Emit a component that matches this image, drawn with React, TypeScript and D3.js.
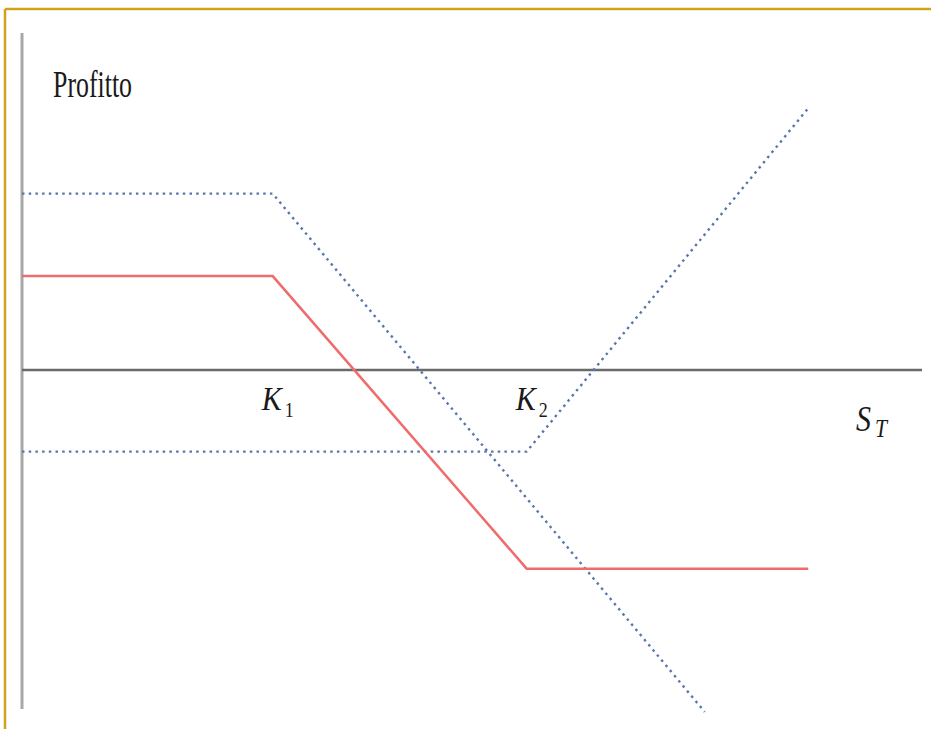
import React from "react";
import * as d3 from "d3";

// Strike prices (in units of S_T)
const strikes = [39, 78.5];
const strikeLabels = ["1", "2"];

// Profit series (S_T values and profits)
const redS = [0, 39, 78.5, 122.3];
const redP = [12.2, 12.2, -25.8, -25.8];

const shortCallS = [0, 39, 106.2];
const shortCallP = [22.9, 22.9, -44.4];

const longCallS = [0, 78.5, 122.3];
const longCallP = [-10.6, -10.6, 34.0];

const W = 931;
const H = 729;

export default function App() {
  const x = d3.scaleLinear().domain([0, 140]).range([22, 922]);
  const y = d3.scaleLinear().domain([-50, 50]).range([755, -15]);

  const line = d3
    .line<[number, number]>()
    .x((d) => x(d[0]))
    .y((d) => y(d[1]));

  const zip = (a: number[], b: number[]) => a.map((v, i) => [v, b[i]] as [number, number]);

  const serif = "Liberation Serif, Times New Roman, serif";

  return (
    <div style={{ position: "absolute", left: 0, top: 0, width: W, height: H, background: "#fff" }}>
      <svg width={W} height={H} style={{ display: "block" }}>
        <rect width={W} height={H} fill="#ffffff" />
        {/* gold frame */}
        <line x1={5} y1={9} x2={W} y2={9} stroke="#d1a21c" strokeWidth={2.5} />
        <line x1={5} y1={9} x2={5} y2={H} stroke="#d1a21c" strokeWidth={2.5} />

        {/* axes */}
        <line x1={x(0)} y1={33} x2={x(0)} y2={709} stroke="#a8a8a8" strokeWidth={3} />
        <line x1={x(0)} y1={y(0)} x2={x(140)} y2={y(0)} stroke="#6a6a6a" strokeWidth={2.5} />

        {/* series */}
        <path d={line(zip(shortCallS, shortCallP)) || ""} fill="none" stroke="#5877ad" strokeWidth={2.4} strokeDasharray="2.5,4.2" />
        <path d={line(zip(longCallS, longCallP)) || ""} fill="none" stroke="#5877ad" strokeWidth={2.4} strokeDasharray="2.5,4.2" />
        <path d={line(zip(redS, redP)) || ""} fill="none" stroke="#f06c6c" strokeWidth={2.5} />

        {/* labels */}
        <text x={53} y={97} fontFamily={serif} fontSize={37} textLength={79} lengthAdjust="spacingAndGlyphs" fill="#1a1a1a">
          Profitto
        </text>
        {strikes.map((k, i) => (
          <g key={i}>
            <text x={x(k) - 11} y={410} fontFamily={serif} fontStyle="italic" fontSize={34} textLength={20} lengthAdjust="spacingAndGlyphs" fill="#1a1a1a">
              K
            </text>
            <text x={x(k) + 12} y={417} fontFamily={serif} fontSize={22} textLength={9} lengthAdjust="spacingAndGlyphs" fill="#1a1a1a">
              {strikeLabels[i]}
            </text>
          </g>
        ))}
        <text x={856} y={431} fontFamily={serif} fontStyle="italic" fontSize={36} textLength={15} lengthAdjust="spacingAndGlyphs" fill="#1a1a1a">
          S
        </text>
        <text x={875} y={437} fontFamily={serif} fontStyle="italic" fontSize={25} textLength={12} lengthAdjust="spacingAndGlyphs" fill="#1a1a1a">
          T
        </text>
      </svg>
    </div>
  );
}
